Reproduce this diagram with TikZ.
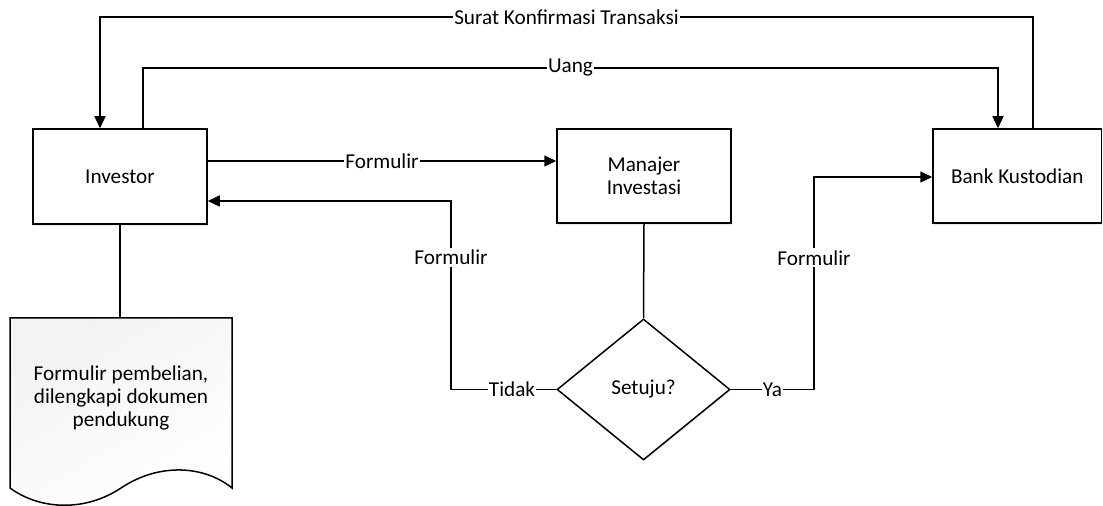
\documentclass[tikz,border=0pt]{standalone}
\usepackage{fontspec}
\setmainfont{Carlito}
\usetikzlibrary{arrows.meta,shapes.geometric,shadows}
\begin{document}
\begin{tikzpicture}[x=.5pt, y=-.5pt, >={Triangle[length=6pt,width=5.5pt]},
    line width=.75pt, font=\fontsize{10.6}{11.7}\selectfont,
    glow/.style={drop shadow={shadow xshift=.4pt, shadow yshift=-.8pt, fill=blue!40!gray!40, opacity=.3}},
    box/.style={draw, fill=white, glow, minimum width=87pt, minimum height=47.5pt, align=center, inner sep=2pt},
    lbl/.style={fill=white, inner xsep=.5pt, inner ysep=1pt}]
    \useasboundingbox (0,0) rectangle (1103,506);
    \node[box] (inv) at (120,176.5) {Investor};
    \node[box, minimum height=47pt] (mi) at (644,176) {Manajer\\Investasi};
    \node[box, minimum width=84.25pt, minimum height=47pt] (bank) at (1017.25,176) {Bank Kustodian};
    \node[draw, fill=white, glow, diamond, minimum width=86.5pt, minimum height=70.5pt, inner sep=0pt] (dia) at (643.5,389.5) {Setuju?};
    % dokumen
    \draw[top color=blue!5!gray!9, bottom color=white, shading angle=30]
        (10,318) -- (232,318) -- (232,488)
        .. controls (205,466) and (160,462) .. (121,488)
        .. controls (85,512) and (40,510) .. (10,488) -- cycle;
    \coordinate (doctop) at (120,318);
    \node[align=center] (doc) at (121,398) {Formulir pembelian,\\dilengkapi dokumen\\pendukung};
    \draw (inv.south) -- (doctop);
    % alur formulir
    \draw[->] (inv.east |- 0,161) -- node[lbl]{Formulir} (mi.west |- 0,161);
    \draw (mi.south) -- (dia.north);
    \coordinate (td1) at (451,389.5);
    \coordinate (td2) at (451,201);
    \draw[->] (dia.west) -- node[lbl, pos=.42]{Tidak} (td1) -- node[lbl, pos=.7]{Formulir} (td2) -- (inv.east |- td2);
    \coordinate (ya1) at (814,389.5);
    \coordinate (ya2) at (814,177);
    \draw[->] (dia.east) -- node[lbl]{Ya} (ya1) -- node[lbl, pos=.62]{Formulir} (ya2) -- (bank.west |- ya2);
    % uang dan surat
    \coordinate (ug1) at (143,68);
    \coordinate (ug2) at (998,68);
    \draw[->] (inv.north -| ug1) -- (ug1) -- node[lbl]{Uang} (ug2) -- (bank.north -| ug2);
    \coordinate (sk1) at (1033,17);
    \coordinate (sk2) at (100,17);
    \draw[->] (bank.north -| sk1) -- (sk1) -- node[lbl]{Surat Konfirmasi Transaksi} (sk2) -- (inv.north -| sk2);
\end{tikzpicture}
\end{document}
